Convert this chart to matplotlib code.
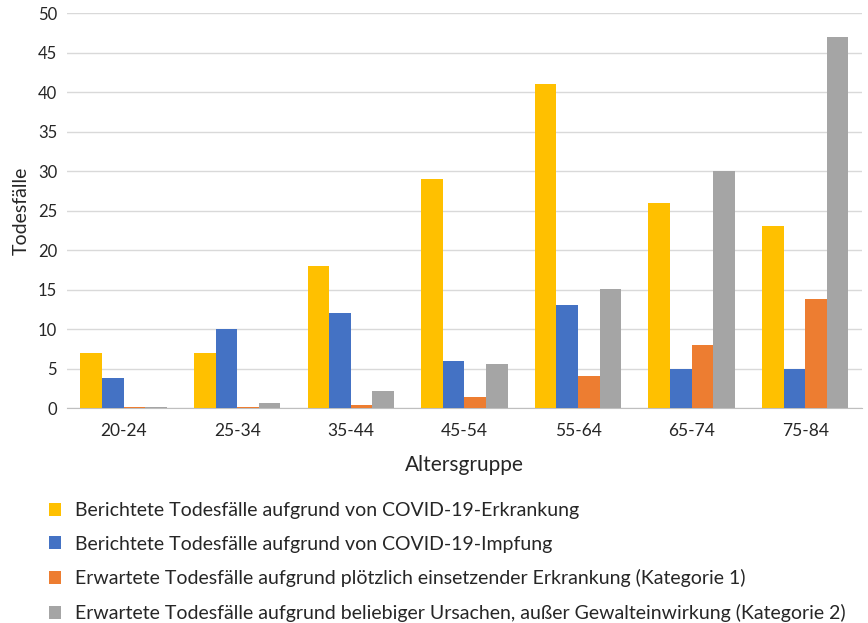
import numpy as np
import matplotlib.pyplot as plt

plt.rcParams['font.family'] = ['Lato', 'DejaVu Sans']

groups = ["20-24", "25-34", "35-44", "45-54", "55-64", "65-74", "75-84"]
covid_erkrankung = [7, 7, 18, 29, 41, 26, 23]
covid_impfung = [3.8, 10, 12, 5.9, 13, 4.9, 5]
kategorie_1 = [0.1, 0.15, 0.4, 1.4, 4.1, 8.0, 13.8]
kategorie_2 = [0.1, 0.7, 2.2, 5.6, 15.1, 30, 47]

labels = [
    "Berichtete Todesfälle aufgrund von COVID-19-Erkrankung",
    "Berichtete Todesfälle aufgrund von COVID-19-Impfung",
    "Erwartete Todesfälle aufgrund plötzlich einsetzender Erkrankung (Kategorie 1)",
    "Erwartete Todesfälle aufgrund beliebiger Ursachen, außer Gewalteinwirkung (Kategorie 2)",
]
colors = ["#FFC000", "#4472C4", "#ED7D31", "#A5A5A5"]

fig = plt.figure(figsize=(8.68, 6.23), dpi=100)
ax = fig.add_axes([0.077, 0.345, 0.916, 0.634])

x = np.arange(len(groups))
w = 0.19
series = [covid_erkrankung, covid_impfung, kategorie_1, kategorie_2]
for i, (vals, lab, c) in enumerate(zip(series, labels, colors)):
    ax.bar(x + (i - 1.5) * w, vals, width=w, color=c, label=lab, zorder=3)

ax.set_ylim(0, 50)
ax.set_xlim(-0.5, len(groups) - 0.5)
ax.set_yticks(range(0, 51, 5))
ax.set_xticks(x)
ax.set_xticklabels(groups)
ax.grid(axis='y', color='#d9d9d9', linewidth=1, zorder=0)
for s in ['top', 'right', 'left']:
    ax.spines[s].set_visible(False)
ax.spines['bottom'].set_color('#bfbfbf')
ax.tick_params(axis='both', length=0, colors='#262626')
ax.tick_params(axis='y', labelsize=12, pad=7)
ax.tick_params(axis='x', labelsize=12.5, pad=11)
ax.set_xlabel("Altersgruppe", fontsize=15, color='#262626', labelpad=11)
ax.set_ylabel("Todesfälle", fontsize=14, color='#262626', labelpad=6)

fig.legend(loc='upper left', bbox_to_anchor=(0.036, 0.222), frameon=False,
           fontsize=14, handlelength=0.65, handleheight=0.65, labelspacing=0.85,
           handletextpad=0.7, labelcolor='#262626')

fig.savefig("out.png", dpi=100)
